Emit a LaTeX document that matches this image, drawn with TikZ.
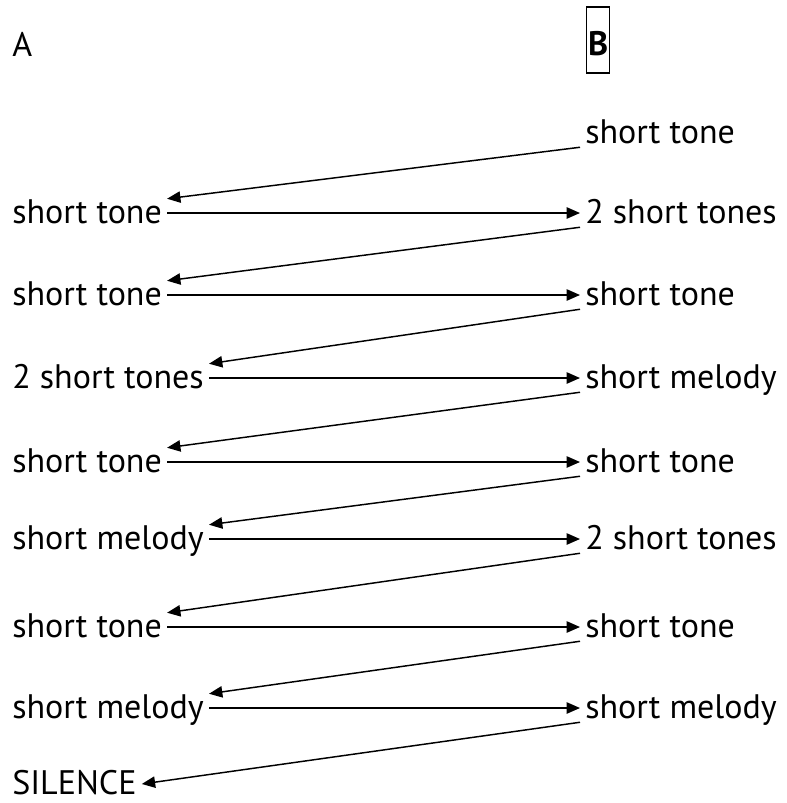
\documentclass[tikz,border=0pt]{standalone}
\usepackage{fontspec}
\setmainfont{PT Sans}
\usetikzlibrary{arrows.meta}
\tikzset{
  lbl/.style = {font=\fontsize{25.5}{30}\selectfont, anchor=west,
    inner xsep=3.75pt, inner ysep=0.75pt, text height=17.25pt, text depth=2.25pt},
  boxed/.style = {draw, font=\fontsize{25.5}{30}\selectfont\bfseries, anchor=base west,
    line width=0.8pt, inner xsep=1.2pt, inner ysep=0.75pt, text height=35.25pt, text depth=12.75pt},
  arr/.style = {line width=1.1pt, -{Triangle[length=10pt,width=8.5pt]}}
}
\begin{document}
\begin{tikzpicture}[x=0.75pt, y=-0.75pt]
      \useasboundingbox (0,0) rectangle (787,803);
      % headers
      \node[lbl] at (7,46) (A) {A};
      \node[boxed] at (586,55) (B) {B};
      % left column
      \node[lbl] at (7,213) (L1) {short tone};
      \node[lbl] at (7,295) (L2) {short tone};
      \node[lbl] at (7,378) (L3) {2 short tones};
      \node[lbl] at (7,462) (L4) {short tone};
      \node[lbl] at (7,539) (L5) {short melody};
      \node[lbl] at (7,627) (L6) {short tone};
      \node[lbl] at (7,708) (L7) {short melody};
      \node[lbl] at (7,784) (L8) {SILENCE};
      % right column
      \node[lbl] at (580,133) (R0) {short tone};
      \node[lbl] at (580,213) (R1) {2 short tones};
      \node[lbl] at (580,295) (R2) {short tone};
      \node[lbl] at (580,378) (R3) {short melody};
      \node[lbl] at (580,462) (R4) {short tone};
      \node[lbl] at (580,539) (R5) {2 short tones};
      \node[lbl] at (580,627) (R6) {short tone};
      \node[lbl] at (580,708) (R7) {short melody};
      % answers from B to A
      \draw[arr] (R0.south west) -- (L1.north east);
      \draw[arr] (R1.south west) -- (L2.north east);
      \draw[arr] (R2.south west) -- (L3.north east);
      \draw[arr] (R3.south west) -- (L4.north east);
      \draw[arr] (R4.south west) -- (L5.north east);
      \draw[arr] (R5.south west) -- (L6.north east);
      \draw[arr] (R6.south west) -- (L7.north east);
      \draw[arr] (R7.south west) -- (L8.east);
      % calls from A to B
      \draw[arr] (L1) -- (R1);
      \draw[arr] (L2) -- (R2);
      \draw[arr] (L3) -- (R3);
      \draw[arr] (L4) -- (R4);
      \draw[arr] (L5) -- (R5);
      \draw[arr] (L6) -- (R6);
      \draw[arr] (L7) -- (R7);
\end{tikzpicture}
\end{document}
